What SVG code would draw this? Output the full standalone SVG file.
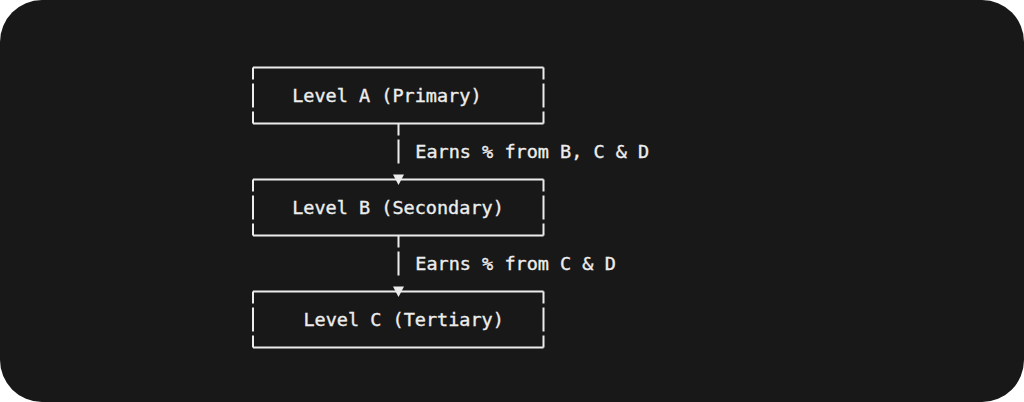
<svg xmlns="http://www.w3.org/2000/svg" width="1024" height="402" viewBox="0 0 1024 402">
  <style>
    .ln { stroke: #ececec; stroke-width: 2; fill: none; }
    .txt { font-family: "DejaVu Sans Mono", "Liberation Mono", monospace; font-size: 18.5px; fill: #ededed; stroke: #ededed; stroke-width: 0.35px; }
    .arr { fill: #ececec; }
  </style>
  <rect x="0" y="0" width="1024" height="402" fill="#ffffff"/>
  <rect x="0" y="0" width="1024" height="402" rx="42" ry="42" fill="#181818"/>

  <g id="node-a">
    <path class="ln" d="M253,67.5 H543.5 M253,67.5 V79.5 M543.5,67.5 V79.5 M253,83.5 V107.5 M543.5,83.5 V107.5 M253,111.5 V123.5 M543.5,111.5 V123.5 M253,123.5 H543.5"/>
    <text class="txt" x="292.2" y="101.5">Level A (Primary)</text>
  </g>

  <g id="node-b">
    <path class="ln" d="M253,179.5 H543.5 M253,179.5 V191.5 M543.5,179.5 V191.5 M253,195.5 V219.5 M543.5,195.5 V219.5 M253,223.5 V235.5 M543.5,223.5 V235.5 M253,235.5 H543.5"/>
    <text class="txt" x="292.2" y="213.5">Level B (Secondary)</text>
  </g>

  <g id="node-c">
    <path class="ln" d="M253,291.5 H543.5 M253,291.5 V303.5 M543.5,291.5 V303.5 M253,307.5 V331.5 M543.5,307.5 V331.5 M253,335.5 V347.5 M543.5,335.5 V347.5 M253,347.5 H543.5"/>
    <text class="txt" x="303.4" y="325.5">Level C (Tertiary)</text>
  </g>

  <g id="connectors">
    <path class="ln" d="M398.5,123.5 V135.5 M398.5,139.5 V163.5"/>
    <polygon class="arr" points="393,174.5 404,174.5 398.5,185"/>
    <text class="txt" x="415.3" y="157.5">Earns % from B, C &amp; D</text>

    <path class="ln" d="M398.5,235.5 V247.5 M398.5,251.5 V275.5"/>
    <polygon class="arr" points="393,286.5 404,286.5 398.5,297"/>
    <text class="txt" x="415.3" y="269.5">Earns % from C &amp; D</text>
  </g>
</svg>
